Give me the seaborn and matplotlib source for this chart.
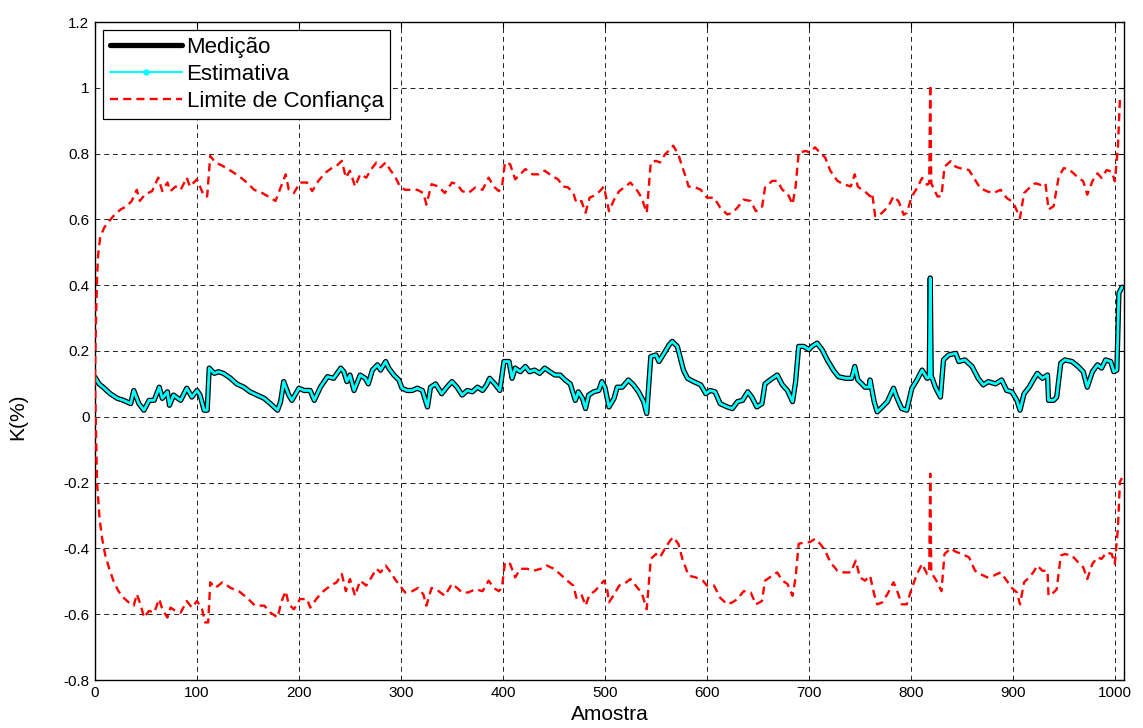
import numpy as np
import pandas as pd
import matplotlib
matplotlib.use("Agg")
import matplotlib.pyplot as plt
from matplotlib.lines import Line2D
import seaborn as sns

# ---- data ----
amostra_med = [0, 4, 9, 15, 22, 28, 35, 38, 43, 48, 53, 58, 63, 66, 71, 73, 77, 84, 90, 95,
               100, 103, 107, 110, 112, 117, 121, 126, 133, 139, 146, 152, 159, 166, 172, 179, 182, 185, 190, 193,
               200, 205, 211, 215, 221, 228, 234, 241, 244, 247, 250, 254, 260, 265, 268, 272, 277, 280, 285, 288,
               293, 298, 301, 306, 311, 316, 321, 326, 329, 334, 340, 345, 350, 355, 360, 365, 370, 375, 380, 384,
               387, 392, 397, 401, 406, 409, 412, 417, 422, 426, 431, 436, 441, 446, 451, 456, 461, 466, 471, 474,
               478, 481, 484, 489, 494, 497, 500, 502, 504, 509, 512, 517, 523, 528, 533, 538, 541, 545, 550, 553,
               558, 563, 566, 571, 574, 577, 581, 587, 594, 599, 603, 608, 613, 620, 625, 630, 635, 640, 644, 649,
               654, 657, 662, 669, 674, 679, 684, 687, 690, 695, 700, 703, 708, 713, 718, 724, 729, 736, 742, 745,
               748, 752, 755, 759, 760, 764, 767, 772, 777, 783, 786, 791, 796, 801, 806, 811, 816, 818, 819, 820,
               821, 824, 829, 832, 837, 844, 847, 853, 860, 866, 871, 876, 883, 889, 894, 899, 904, 907, 911, 916,
               920, 924, 929, 934, 935, 940, 943, 947, 951, 958, 964, 969, 973, 978, 983, 987, 991, 996, 999, 1002,
               1004, 1007]
medicao = [0.12, 0.10, 0.087, 0.07, 0.056, 0.05, 0.04, 0.08, 0.04, 0.02, 0.05, 0.05, 0.09, 0.056, 0.076, 0.035, 0.066, 0.05, 0.087, 0.06,
           0.08, 0.066, 0.02, 0.02, 0.148, 0.132, 0.137, 0.132, 0.117, 0.10, 0.09, 0.076, 0.066, 0.056, 0.04, 0.02, 0.046, 0.107, 0.066, 0.05,
           0.087, 0.08, 0.08, 0.05, 0.09, 0.122, 0.117, 0.148, 0.137, 0.107, 0.127, 0.08, 0.127, 0.117, 0.10, 0.142, 0.158, 0.142, 0.168, 0.148,
           0.127, 0.112, 0.087, 0.08, 0.08, 0.087, 0.08, 0.03, 0.09, 0.10, 0.07, 0.09, 0.107, 0.09, 0.066, 0.08, 0.076, 0.09, 0.08, 0.097,
           0.117, 0.10, 0.08, 0.168, 0.168, 0.117, 0.148, 0.137, 0.153, 0.137, 0.142, 0.132, 0.148, 0.137, 0.127, 0.127, 0.112, 0.10, 0.05, 0.076,
           0.056, 0.025, 0.066, 0.076, 0.08, 0.107, 0.09, 0.06, 0.03, 0.056, 0.09, 0.09, 0.112, 0.097, 0.076, 0.046, 0.01, 0.183, 0.188, 0.168,
           0.193, 0.219, 0.229, 0.214, 0.178, 0.142, 0.117, 0.107, 0.097, 0.07, 0.08, 0.076, 0.04, 0.03, 0.025, 0.046, 0.05, 0.076, 0.06, 0.03,
           0.04, 0.10, 0.112, 0.127, 0.097, 0.08, 0.046, 0.107, 0.214, 0.214, 0.204, 0.214, 0.224, 0.204, 0.173, 0.142, 0.122, 0.117, 0.117, 0.153,
           0.112, 0.10, 0.09, 0.09, 0.112, 0.046, 0.015, 0.03, 0.046, 0.087, 0.06, 0.025, 0.02, 0.087, 0.112, 0.142, 0.117, 0.12, 0.422, 0.12,
           0.117, 0.09, 0.06, 0.173, 0.188, 0.193, 0.168, 0.173, 0.153, 0.117, 0.097, 0.107, 0.10, 0.112, 0.08, 0.076, 0.05, 0.02, 0.07, 0.09,
           0.112, 0.132, 0.117, 0.127, 0.05, 0.05, 0.06, 0.163, 0.173, 0.168, 0.153, 0.137, 0.09, 0.137, 0.158, 0.148, 0.173, 0.168, 0.137, 0.142,
           0.376, 0.394]
# the estimate coincides with the measurement in the picture
amostra_est = list(amostra_med)
estimativa = list(medicao)

amostra_sup = [0, 1, 2, 3, 5, 9, 14, 18, 25, 31, 36, 41, 44, 49, 56, 62, 66, 71, 74, 79,
               84, 90, 93, 100, 103, 107, 110, 113, 118, 125, 133, 141, 149, 156, 164, 172, 177, 182, 187, 190,
               195, 201, 208, 213, 219, 226, 233, 237, 242, 246, 250, 255, 260, 266, 271, 276, 280, 285, 290, 294,
               299, 304, 311, 316, 322, 325, 330, 337, 343, 350, 355, 360, 366, 373, 380, 386, 391, 396, 399, 402,
               407, 412, 417, 422, 429, 435, 441, 448, 454, 459, 464, 469, 472, 477, 481, 485, 490, 495, 499, 504,
               509, 514, 519, 525, 532, 536, 541, 545, 550, 554, 559, 564, 567, 572, 576, 579, 582, 589, 594, 600,
               607, 613, 620, 625, 630, 636, 643, 648, 654, 657, 664, 669, 674, 679, 684, 687, 690, 697, 701, 706,
               711, 716, 721, 728, 734, 741, 745, 748, 750, 755, 760, 762, 765, 768, 773, 778, 783, 788, 793, 796,
               801, 806, 811, 816, 818, 819, 820, 826, 830, 833, 839, 844, 850, 857, 863, 868, 875, 881, 888, 894,
               899, 902, 907, 911, 916, 922, 927, 932, 935, 940, 945, 950, 956, 963, 969, 973, 978, 983, 987, 992,
               997, 1000, 1003, 1005, 1007]
limite_sup = [0.12, 0.30, 0.42, 0.49, 0.544, 0.575, 0.595, 0.61, 0.63, 0.64, 0.656, 0.69, 0.656, 0.676, 0.686, 0.727, 0.686, 0.712, 0.686, 0.70,
              0.69, 0.727, 0.70, 0.722, 0.70, 0.67, 0.67, 0.793, 0.773, 0.763, 0.748, 0.732, 0.712, 0.69, 0.68, 0.666, 0.656, 0.697, 0.737, 0.69,
              0.68, 0.712, 0.712, 0.686, 0.717, 0.742, 0.758, 0.763, 0.778, 0.727, 0.748, 0.70, 0.737, 0.727, 0.753, 0.773, 0.758, 0.773, 0.748, 0.732,
              0.70, 0.69, 0.69, 0.69, 0.68, 0.645, 0.707, 0.70, 0.68, 0.712, 0.707, 0.686, 0.68, 0.697, 0.69, 0.727, 0.70, 0.686, 0.697, 0.773,
              0.768, 0.722, 0.737, 0.753, 0.737, 0.737, 0.748, 0.732, 0.722, 0.70, 0.697, 0.68, 0.651, 0.656, 0.62, 0.666, 0.673, 0.686, 0.70, 0.625,
              0.66, 0.686, 0.697, 0.712, 0.686, 0.666, 0.62, 0.773, 0.778, 0.773, 0.798, 0.813, 0.824, 0.798, 0.758, 0.732, 0.70, 0.697, 0.69, 0.666,
              0.666, 0.636, 0.615, 0.62, 0.636, 0.66, 0.656, 0.625, 0.636, 0.697, 0.717, 0.717, 0.69, 0.68, 0.646, 0.70, 0.803, 0.808, 0.803, 0.819,
              0.803, 0.788, 0.748, 0.717, 0.707, 0.70, 0.737, 0.70, 0.695, 0.685, 0.67, 0.68, 0.61, 0.61, 0.624, 0.64, 0.67, 0.655, 0.614, 0.62,
              0.67, 0.695, 0.726, 0.705, 0.71, 1.01, 0.71, 0.67, 0.67, 0.76, 0.777, 0.76, 0.754, 0.75, 0.72, 0.695, 0.685, 0.68, 0.69, 0.665,
              0.655, 0.64, 0.604, 0.68, 0.695, 0.71, 0.705, 0.71, 0.63, 0.64, 0.73, 0.756, 0.75, 0.73, 0.716, 0.675, 0.716, 0.74, 0.726, 0.75,
              0.745, 0.716, 0.817, 0.965, 0.972]

amostra_inf = [0, 1, 2, 4.5, 7, 10, 14, 18, 23, 28, 33, 38, 41, 45, 48, 53, 58, 63, 66, 71,
               74, 79, 84, 90, 95, 100, 105, 108, 111, 113, 118, 125, 133, 141, 149, 157, 166, 172, 179, 183,
               187, 190, 195, 201, 208, 211, 218, 224, 231, 237, 242, 246, 250, 255, 260, 266, 271, 276, 280, 285,
               290, 294, 299, 304, 311, 317, 322, 325, 330, 337, 343, 350, 355, 360, 366, 373, 380, 386, 391, 396,
               399, 402, 407, 412, 417, 424, 430, 437, 443, 450, 456, 463, 469, 472, 477, 481, 485, 490, 495, 499,
               502, 504, 509, 514, 519, 525, 532, 536, 541, 545, 550, 554, 559, 564, 567, 572, 576, 579, 582, 589,
               596, 600, 607, 613, 620, 625, 630, 636, 643, 648, 654, 657, 664, 669, 674, 679, 684, 687, 690, 697,
               701, 706, 711, 716, 721, 728, 734, 741, 746, 750, 755, 760, 764, 767, 772, 777, 783, 786, 791, 796,
               801, 806, 811, 816, 818, 819, 820, 826, 830, 833, 839, 844, 850, 857, 863, 868, 875, 881, 888, 894,
               899, 904, 907, 911, 916, 920, 924, 929, 934, 935, 940, 943, 947, 951, 958, 964, 969, 973, 978, 983,
               987, 992, 997, 1000, 1003, 1005, 1007]
limite_inf = [0.12, -0.05, -0.20, -0.31, -0.37, -0.42, -0.462, -0.498, -0.53, -0.55, -0.564, -0.574, -0.539, -0.574, -0.61, -0.59, -0.595, -0.554, -0.585, -0.61,
              -0.58, -0.59, -0.595, -0.56, -0.58, -0.56, -0.585, -0.625, -0.625, -0.503, -0.52, -0.503, -0.52, -0.53, -0.55, -0.574, -0.574, -0.595, -0.61, -0.56,
              -0.53, -0.57, -0.585, -0.554, -0.554, -0.58, -0.55, -0.53, -0.513, -0.503, -0.478, -0.53, -0.493, -0.544, -0.498, -0.513, -0.488, -0.462, -0.473, -0.452,
              -0.473, -0.493, -0.513, -0.534, -0.53, -0.52, -0.54, -0.574, -0.52, -0.53, -0.544, -0.508, -0.52, -0.534, -0.534, -0.524, -0.53, -0.498, -0.52, -0.53,
              -0.52, -0.442, -0.447, -0.488, -0.462, -0.462, -0.468, -0.462, -0.452, -0.462, -0.478, -0.498, -0.513, -0.55, -0.54, -0.574, -0.54, -0.53, -0.513, -0.498,
              -0.52, -0.564, -0.54, -0.513, -0.508, -0.493, -0.52, -0.534, -0.585, -0.432, -0.417, -0.427, -0.40, -0.376, -0.366, -0.386, -0.432, -0.457, -0.483, -0.488,
              -0.498, -0.513, -0.513, -0.55, -0.57, -0.564, -0.554, -0.53, -0.534, -0.57, -0.56, -0.498, -0.483, -0.473, -0.498, -0.508, -0.544, -0.488, -0.386, -0.381,
              -0.381, -0.371, -0.386, -0.407, -0.442, -0.468, -0.473, -0.473, -0.437, -0.488, -0.498, -0.483, -0.539, -0.57, -0.564, -0.539, -0.503, -0.524, -0.57, -0.57,
              -0.52, -0.478, -0.447, -0.478, -0.475, -0.173, -0.473, -0.503, -0.53, -0.417, -0.40, -0.41, -0.417, -0.427, -0.468, -0.478, -0.488, -0.483, -0.473, -0.498,
              -0.52, -0.534, -0.57, -0.503, -0.488, -0.473, -0.452, -0.468, -0.468, -0.544, -0.534, -0.524, -0.422, -0.417, -0.422, -0.442, -0.457, -0.493, -0.447, -0.427,
              -0.432, -0.412, -0.417, -0.447, -0.34, -0.198, -0.186]

x_ticks = [0, 100, 200, 300, 400, 500, 600, 700, 800, 900, 1000]
y_ticks = [-0.8, -0.6, -0.4, -0.2, 0, 0.2, 0.4, 0.6, 0.8, 1, 1.2]
y_tick_labels = ["-0.8", "-0.6", "-0.4", "-0.2", "0", "0.2", "0.4", "0.6", "0.8", "1", "1.2"]

# ---- plot ----
sns.set_style("white")
plt.rcParams['font.family'] = ['Liberation Sans', 'DejaVu Sans']
plt.rcParams['text.color'] = 'black'
plt.rcParams['axes.labelcolor'] = 'black'

fig = plt.figure(figsize=(11.43, 7.28), dpi=100)
ax = fig.add_axes([95 / 1143, 1 - 680 / 728, (1124 - 95) / 1143, (680 - 22) / 728])

red_dash = (0, (3.4, 2.2))
sns.lineplot(x=amostra_med, y=medicao, ax=ax, color="black", linewidth=3.8,
             estimator=None, sort=False, zorder=3)
sns.lineplot(x=amostra_est, y=estimativa, ax=ax, color="#00FFFF", linewidth=2.0,
             estimator=None, sort=False, zorder=4)
sns.lineplot(x=amostra_sup, y=limite_sup, ax=ax, color="#FF0000", linewidth=1.7,
             linestyle=red_dash, estimator=None, sort=False, zorder=5)
sns.lineplot(x=amostra_inf, y=limite_inf, ax=ax, color="#FF0000", linewidth=1.7,
             linestyle=red_dash, estimator=None, sort=False, zorder=5)

ax.set_xlim(0, 1009)
ax.set_ylim(-0.8, 1.2)
ax.set_xticks(x_ticks)
ax.set_xticklabels([str(v) for v in x_ticks])
ax.set_yticks(y_ticks)
ax.set_yticklabels(y_tick_labels)
ax.tick_params(axis="both", direction="in", top=True, right=True, length=4,
               width=0.8, labelsize=11, color="black", labelcolor="black", pad=4)
ax.grid(True, color="#222222", linestyle=(0, (5, 4)), linewidth=0.7)
for s in ax.spines.values():
    s.set_color("black")
    s.set_linewidth(1.0)

ax.set_xlabel("Amostra", fontsize=15, labelpad=4, color="black")
ax.set_ylabel("K(%)", fontsize=15, color="black")
ax.yaxis.set_label_coords(-0.066, 0.40)

handles = [
    Line2D([], [], color="black", linewidth=3.8),
    Line2D([], [], color="#00FFFF", linewidth=1.5, marker=".", markersize=7),
    Line2D([], [], color="#FF0000", linewidth=1.7, linestyle=red_dash),
]
labels = ["Medição", "Estimativa", "Limite de Confiança"]
leg = ax.legend(handles, labels, loc="upper left", bbox_to_anchor=(0.008, 0.988),
                fontsize=16, handlelength=3.25, handletextpad=0.2, labelspacing=0.28,
                borderpad=0.3, borderaxespad=0.0, fancybox=False, framealpha=1,
                edgecolor="black", markerscale=1.0)
leg.get_frame().set_linewidth(0.9)
for t in leg.get_texts():
    t.set_color("black")

fig.savefig("out.png", dpi=100)
